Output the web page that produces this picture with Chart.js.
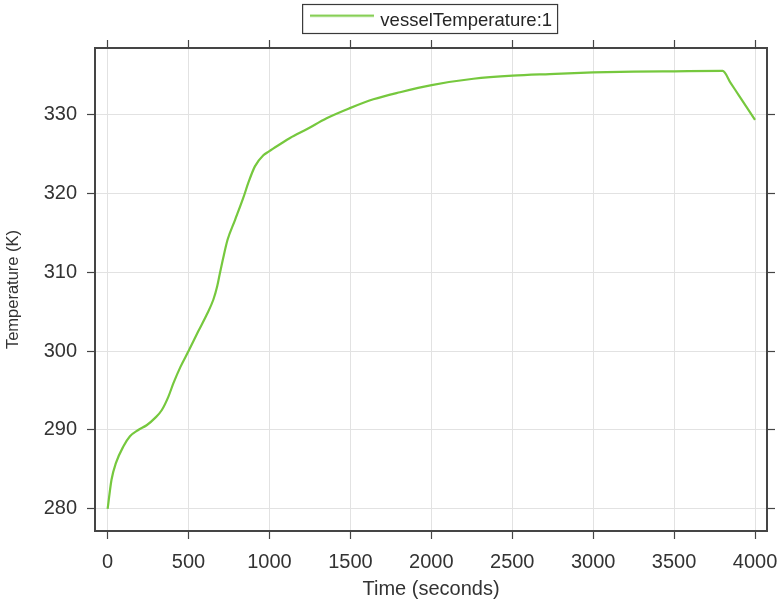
<!DOCTYPE html>
<html>
<head>
<meta charset="utf-8">
<script src="https://cdn.jsdelivr.net/npm/chart.js@4/dist/chart.umd.min.js"></script>
<style>
  html, body { margin: 0; padding: 0; background: #ffffff; }
  canvas { display: block; }
</style>
</head>
<body>
<canvas id="c" width="779" height="603"></canvas>
<script>
// ---- data ----
const seriesName = 'vesselTemperature:1';
const timeSeconds = [0, 24, 51, 97, 138, 189, 241, 292, 334, 375, 406, 450, 500, 560, 612, 653, 677, 694, 711, 741, 787, 838, 869, 910, 962, 997, 1065, 1127, 1230, 1353, 1493, 1642, 1807, 2002, 2260, 2502, 2731, 3000, 3250, 3500, 3800, 3850, 3900, 3950, 4000];
const temperatureK = [280.0, 283.7, 285.8, 287.9, 289.2, 290.0, 290.6, 291.5, 292.5, 294.2, 295.9, 298.0, 300.0, 302.5, 304.6, 306.5, 308.2, 309.9, 311.5, 314.1, 316.6, 319.4, 321.3, 323.4, 324.8, 325.3, 326.2, 327.0, 328.1, 329.5, 330.75, 331.9, 332.8, 333.7, 334.5, 334.9, 335.1, 335.3, 335.4, 335.45, 335.5, 333.95, 332.4, 330.85, 329.3];
const xTickValues = [0, 500, 1000, 1500, 2000, 2500, 3000, 3500, 4000];
const yTickValues = [280, 290, 300, 310, 320, 330];
const xTitle = 'Time (seconds)';
const yTitle = 'Temperature (K)';

// ---- styling ----
const FONT = "'Liberation Sans', Arial, Helvetica, sans-serif";
const LINE_COLOR = '#76c83e';
const AXIS_COLOR = '#454545';
const GRID_COLOR = '#e2e2e2';
const TEXT_COLOR = '#333333';
const X_MIN = -78, X_MAX = 4074;
const Y_MIN = 277.2, Y_MAX = 338.4;

const points = timeSeconds.map((t, i) => ({ x: t, y: temperatureK[i] }));

// legend line sample (drawn slightly above the text centre as in the reference)
const legendLine = document.createElement('canvas');
legendLine.width = 64; legendLine.height = 20;
(function () {
  const g = legendLine.getContext('2d');
  g.strokeStyle = LINE_COLOR; g.lineWidth = 2;
  g.beginPath(); g.moveTo(0, 4.5); g.lineTo(64, 4.5); g.stroke();
})();

const LEGEND_FONT = 18.5;
const LEGEND_PAD = 12;
const LEGEND_H = LEGEND_FONT + LEGEND_PAD + 10;
const LEGEND_SHIFT = 42.6;

const legendPlugin = {
  id: 'legendTweaks',
  afterLayout(chart) {
    const lg = chart.legend;
    if (lg) { lg.left += LEGEND_SHIFT; lg.right += LEGEND_SHIFT; }
  },
  afterDraw(chart) {
    const lg = chart.legend;
    if (!lg || !lg.legendHitBoxes || !lg.legendHitBoxes.length) return;
    const hb = lg.legendHitBoxes[0];
    const ctx = chart.ctx;
    ctx.save();
    ctx.strokeStyle = '#3a3a3a';
    ctx.lineWidth = 1.2;
    ctx.strokeRect(hb.left - 9.5, 4.5, hb.width + 15, 29);
    ctx.restore();
  }
};

const tickSetter = (vals) => (scale) => { scale.ticks = vals.map(v => ({ value: v })); };
const plainLabel = (v) => String(v);

new Chart(document.getElementById('c'), {
  type: 'line',
  data: {
    datasets: [{
      label: seriesName,
      data: points,
      borderColor: LINE_COLOR,
      backgroundColor: LINE_COLOR,
      borderWidth: 2.2,
      pointRadius: 0,
      cubicInterpolationMode: 'monotone',
      fill: false
    }]
  },
  options: {
    responsive: false,
    animation: false,
    devicePixelRatio: 1,
    layout: { padding: 0 },
    plugins: {
      legend: {
        display: true,
        position: 'top',
        align: 'center',
        labels: {
          font: { family: FONT, size: LEGEND_FONT },
          color: '#262626',
          padding: LEGEND_PAD,
          usePointStyle: true,
          pointStyle: legendLine,
          pointStyleWidth: 59
        }
      },
      tooltip: { enabled: false }
    },
    scales: {
      x: {
        type: 'linear', position: 'bottom', min: X_MIN, max: X_MAX,
        afterBuildTicks: tickSetter(xTickValues),
        afterFit: (s) => { s.height = 72; s.paddingLeft = 0; s.paddingRight = 0; },
        ticks: { font: { family: FONT, size: 20 }, color: TEXT_COLOR, padding: 11, maxRotation: 0, callback: plainLabel },
        grid: { color: GRID_COLOR, lineWidth: 1, tickColor: AXIS_COLOR, tickLength: 8, tickWidth: 1.2 },
        border: { color: AXIS_COLOR, width: 2 },
        title: { display: true, text: xTitle, font: { family: FONT, size: 20 }, color: TEXT_COLOR, padding: { top: 0, bottom: 2 } }
      },
      x2: {
        type: 'linear', position: 'top', min: X_MIN, max: X_MAX,
        afterBuildTicks: tickSetter(xTickValues),
        afterFit: (s) => { s.height = 48 - LEGEND_H; s.paddingLeft = 0; s.paddingRight = 0; },
        ticks: { display: false },
        grid: { drawOnChartArea: false, tickColor: AXIS_COLOR, tickLength: 8, tickWidth: 1.2 },
        border: { color: AXIS_COLOR, width: 2 }
      },
      y: {
        type: 'linear', position: 'left', min: Y_MIN, max: Y_MAX,
        afterBuildTicks: tickSetter(yTickValues),
        afterFit: (s) => { s.width = 95; },
        ticks: { font: { family: FONT, size: 20 }, color: TEXT_COLOR, padding: 10, callback: plainLabel },
        grid: { color: GRID_COLOR, lineWidth: 1, tickColor: AXIS_COLOR, tickLength: 8, tickWidth: 1.2 },
        border: { color: AXIS_COLOR, width: 2 },
        title: { display: true, text: yTitle, font: { family: FONT, size: 16.5 }, color: TEXT_COLOR, padding: { top: 4, bottom: 0 } }
      },
      y2: {
        type: 'linear', position: 'right', min: Y_MIN, max: Y_MAX,
        afterBuildTicks: tickSetter(yTickValues),
        afterFit: (s) => { s.width = 12; },
        ticks: { display: false },
        grid: { drawOnChartArea: false, tickColor: AXIS_COLOR, tickLength: 8, tickWidth: 1.2 },
        border: { color: AXIS_COLOR, width: 2 }
      }
    }
  },
  plugins: [legendPlugin]
});
</script>
</body>
</html>
